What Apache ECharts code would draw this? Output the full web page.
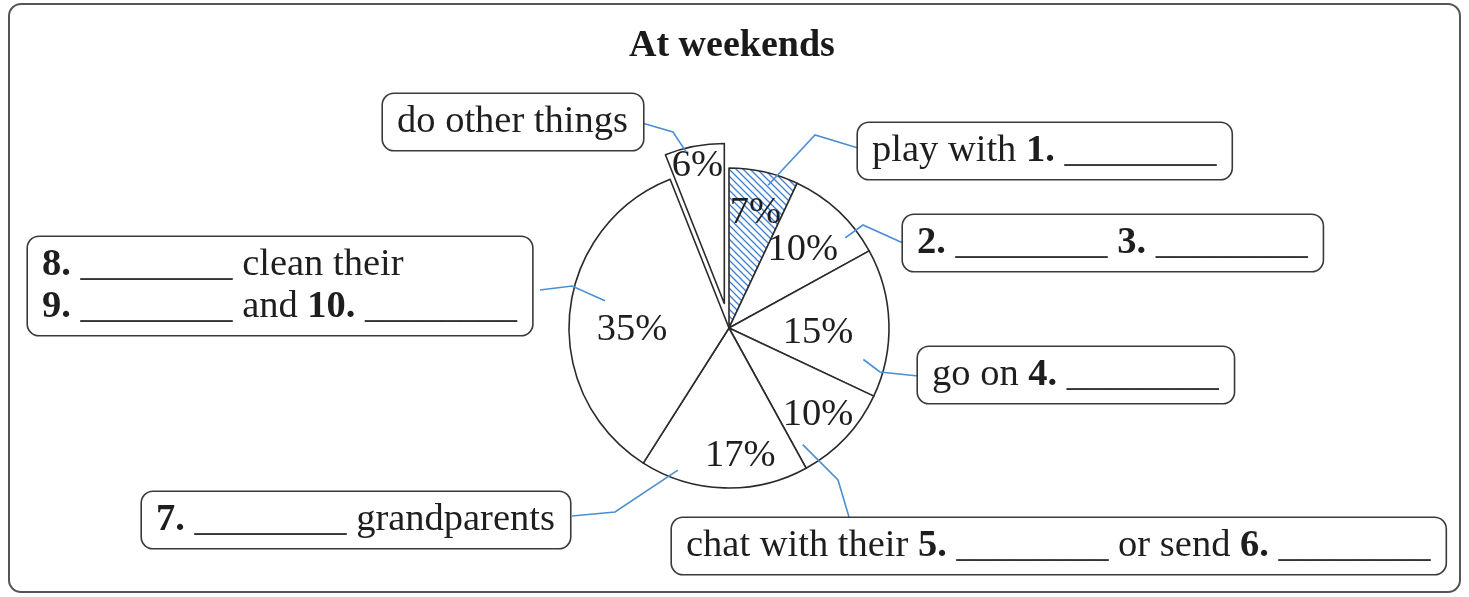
<!DOCTYPE html>
<html><head><meta charset="utf-8">
<script src="https://cdn.jsdelivr.net/npm/echarts@6/dist/echarts.min.js"></script>
<style>html,body{margin:0;padding:0;background:#fff}#c{width:1469px;height:597px}</style>
</head><body><div id="c"></div>
<script>
// ---- data ----
const titleText = 'At weekends';
const categories = ['play with 1.', '2. 3.', 'go on 4.', 'chat with their 5. or send 6.', '7. grandparents', '8. clean their 9. and 10.', 'do other things'];
const values = [7, 10, 15, 10, 17, 35, 6];
const boxTexts = [
  'play with {b|1.} {u|________}',
  '{b|2.} {u|________} {b|3.} {u|________}',
  'go on {b|4.} {u|________}',
  'chat with their {b|5.} {u|________} or send {b|6.} {u|________}',
  '{b|7.} {u|________} grandparents',
  '{b|8.} {u|________} clean their\n{b|9.} {u|________} and {b|10.} {u|________}',
  'do other things'
];
const explodedIndex = 6;
const hatchedIndex = 0;

// ---- layout / style ----
const FONT = '"Liberation Serif", "Times New Roman", serif';
const FS = 38.5;
const CX = 729, CY = 328, R = 160, OFFSET = 25;
const innerLabelR = [121, 110, 89, 122, 125, 97, 143];
const innerLabelDA = [0, -1, 3, 0, -7, -5, 0];
const innerLabelDY = 3;
const boxPos = [[858,151],[903,243],[918,375],[672,546],[142,520],[28,286],[383,122]];
const leaderAnchor = [[2.7,148],[9,147],[15,138],[14.5,138],[18,151],[7,127],[-3.3,156]];
const leaderElbow = [[815,135],[863,225],[880,372],[838,480],[615,512],[572,286],[673,132]];
const leaderEnd = [[858,148],[903,243],[918,376],[849,517],[572,516],[540,290],[642,123]];

const total = values.reduce((a,b)=>a+b,0);
const mids = [];
{ let acc = 0; values.forEach(v => { mids.push((acc + v/2) / total * 360); acc += v; }); }
const exMid = mids[explodedIndex] * Math.PI / 180;
const EX = OFFSET * Math.sin(exMid), EY = -OFFSET * Math.cos(exMid);
function pt(deg, r, idx) {
  const a = deg * Math.PI / 180;
  let x = CX + r * Math.sin(a), y = CY - r * Math.cos(a);
  if (idx === explodedIndex) { x += EX; y += EY; }
  return [x, y];
}

function hatch() {
  const s = 7, c = document.createElement('canvas');
  c.width = c.height = s;
  const g = c.getContext('2d');
  g.fillStyle = '#fff'; g.fillRect(0,0,s,s);
  g.strokeStyle = '#3c7fd4'; g.lineWidth = 1.3;
  g.beginPath();
  g.moveTo(-1,-1); g.lineTo(s+1,s+1);
  g.moveTo(-1,s-1); g.lineTo(1,s+1);
  g.moveTo(s-1,-1); g.lineTo(s+1,1);
  g.stroke();
  return c;
}
const hatchPattern = { image: hatch(), repeat: 'repeat' };
const HIDDEN = { color: 'rgba(0,0,0,0)', borderWidth: 0 };

// main pie (exploded slice hidden here, drawn by the shifted series)
const pieData = values.map((v, i) => ({
  name: categories[i], value: v,
  itemStyle: i === hatchedIndex ? { color: hatchPattern } : (i === explodedIndex ? HIDDEN : {}),
  label: { show: i !== explodedIndex }
}));
// exploded slice: same pie, centre shifted along that slice's bisector
const explodeData = values.map((v, i) => ({
  name: categories[i], value: v,
  itemStyle: i === explodedIndex ? {} : HIDDEN,
  label: { show: i === explodedIndex }
}));
const labelData = values.map((v, i) => ({ name: categories[i], value: v }));

const innerLabel = {
  show: true, position: 'inside', formatter: p => p.value + '%',
  fontFamily: FONT, fontSize: FS, color: '#1e1e1e'
};
const innerLayout = p => {
  const i = p.dataIndex;
  const q = pt(mids[i] + innerLabelDA[i], innerLabelR[i], i);
  return { x: q[0], y: q[1] + innerLabelDY, align: 'center', verticalAlign: 'middle' };
};
const sliceStyle = { color: '#fff', borderColor: '#2a2a2a', borderWidth: 1.6 };

const chart = echarts.init(document.getElementById('c'), null, { renderer: 'canvas' });
chart.setOption({
  backgroundColor: '#fff',
  animation: false,
  title: {
    text: titleText, left: 624, top: 22,
    textStyle: { fontFamily: FONT, fontSize: 38, fontWeight: 'bold', color: '#1a1a1a' }
  },
  graphic: [{
    type: 'rect', shape: { x: 9, y: 4, width: 1451, height: 588, r: 12 },
    style: { fill: 'none', stroke: '#555', lineWidth: 2 }, silent: true, z: -1
  }],
  series: [
    {
      type: 'pie', center: [CX, CY], radius: R, startAngle: 90, clockwise: true,
      selectedMode: false, avoidLabelOverlap: false, silent: true,
      emphasis: { disabled: true },
      itemStyle: sliceStyle, label: innerLabel, labelLine: { show: false },
      labelLayout: innerLayout, data: pieData, z: 2
    },
    {
      type: 'pie', center: [CX + EX, CY + EY], radius: R, startAngle: 90, clockwise: true,
      selectedMode: false, avoidLabelOverlap: false, silent: true,
      emphasis: { disabled: true },
      itemStyle: sliceStyle, label: innerLabel, labelLine: { show: false },
      labelLayout: innerLayout, data: explodeData, z: 2
    },
    {
      type: 'pie', center: [CX, CY], radius: R, startAngle: 90, clockwise: true,
      selectedMode: false, avoidLabelOverlap: false, silent: true,
      emphasis: { disabled: true },
      itemStyle: HIDDEN,
      label: {
        show: true, position: 'outside',
        formatter: p => boxTexts[p.dataIndex],
        fontFamily: FONT, fontSize: FS, color: '#1e1e1e', lineHeight: 42,
        backgroundColor: '#fff', borderColor: '#3a3a3a', borderWidth: 1.6, borderRadius: 11,
        padding: [7, 15, 7, 14],
        rich: {
          b: { fontFamily: FONT, fontSize: FS, fontWeight: 'bold', color: '#1e1e1e', lineHeight: 42 },
          u: { fontFamily: FONT, fontSize: 38, color: '#333', lineHeight: 42 }
        }
      },
      labelLine: { show: true, length: 10, length2: 10, lineStyle: { color: '#4a8fd6', width: 1.6 } },
      labelLayout: p => {
        const i = p.dataIndex;
        const a = pt(mids[i] + leaderAnchor[i][0], leaderAnchor[i][1], i);
        return {
          x: boxPos[i][0], y: boxPos[i][1], align: 'left', verticalAlign: 'middle',
          labelLinePoints: [a, leaderElbow[i], leaderEnd[i]]
        };
      },
      data: labelData, z: 3
    }
  ]
});
</script>
</body></html>
